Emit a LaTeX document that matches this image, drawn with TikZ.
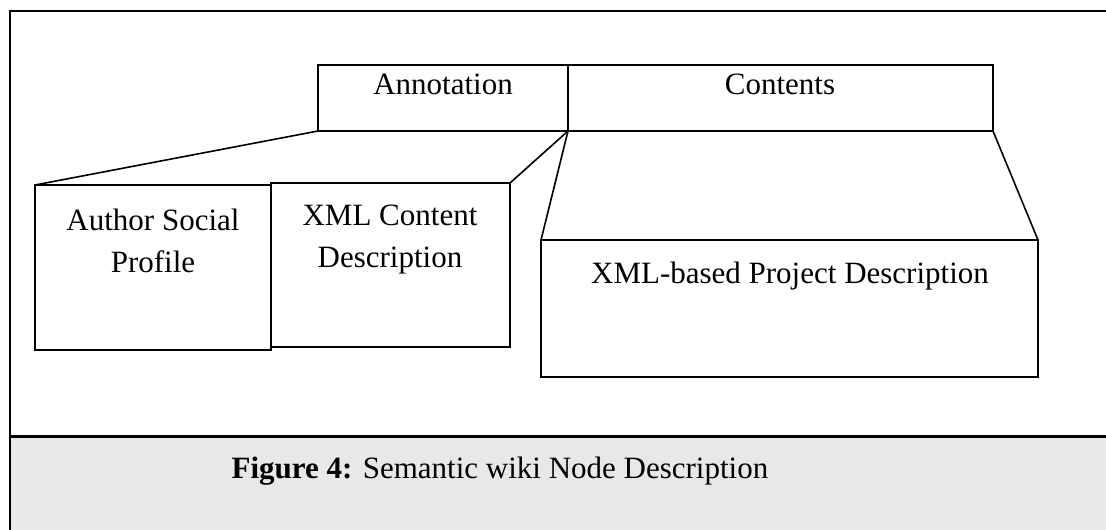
\documentclass[tikz,border=0pt]{standalone}
\usepackage{fontspec}
\setmainfont{Liberation Serif}
\usetikzlibrary{positioning}

\begin{document}
\begin{tikzpicture}[x=1pt,y=-1pt,node distance=0pt,
    box/.style={draw,line width=1.6pt,inner sep=0pt,outer sep=0pt},
    txt/.style={font=\fontsize{31}{42}\selectfont,align=center,inner sep=0pt}]
    \useasboundingbox (0,0) rectangle (1106,530);
    % frame and caption strip
    \fill[gray!18] (10,436) rectangle (1106,530);
    \draw[line width=2.6pt] (1106,11) -- (10,11) -- (10,530);
    \draw[line width=3pt] (10,436) -- (1106,436);
    % node header
    \node[box,anchor=north west,minimum width=250pt,minimum height=66pt] (annot) at (318,65) {};
    \node[box,minimum width=425pt,minimum height=66pt,right=of annot] (cont) {};
    \node[txt,anchor=base] (annotlbl) at (443,94) {Annotation};
    \node[txt,anchor=base] (contlbl) at (780,94) {Contents};
    % parts
    \node[box,anchor=north west,minimum width=236pt,minimum height=165pt] (author) at (35,185) {};
    \node[box,anchor=north west,minimum width=239pt,minimum height=164pt] (xmlc) at (271,183) {};
    \node[box,anchor=north west,minimum width=497pt,minimum height=137pt] (proj) at (541,240) {};
    \node[txt,anchor=north] (authorlbl) at (153,209) {Author Social\\Profile};
    \node[txt,anchor=north] (xmlclbl) at (390,205) {XML Content\\Description};
    \node[txt,anchor=base] (projlbl) at (790,283) {XML-based Project Description};
    \draw[line width=1.6pt] (annot.south west) -- (author.north west);
    \draw[line width=1.6pt] (annot.south east) -- (xmlc.north east);
    \draw[line width=1.6pt] (cont.south west) -- (proj.north west);
    \draw[line width=1.6pt] (cont.south east) -- (proj.north east);
    % caption
    \node[txt,anchor=base] (caption) at (500,478) {\textbf{Figure 4:} Semantic wiki Node Description};
\end{tikzpicture}
\end{document}
